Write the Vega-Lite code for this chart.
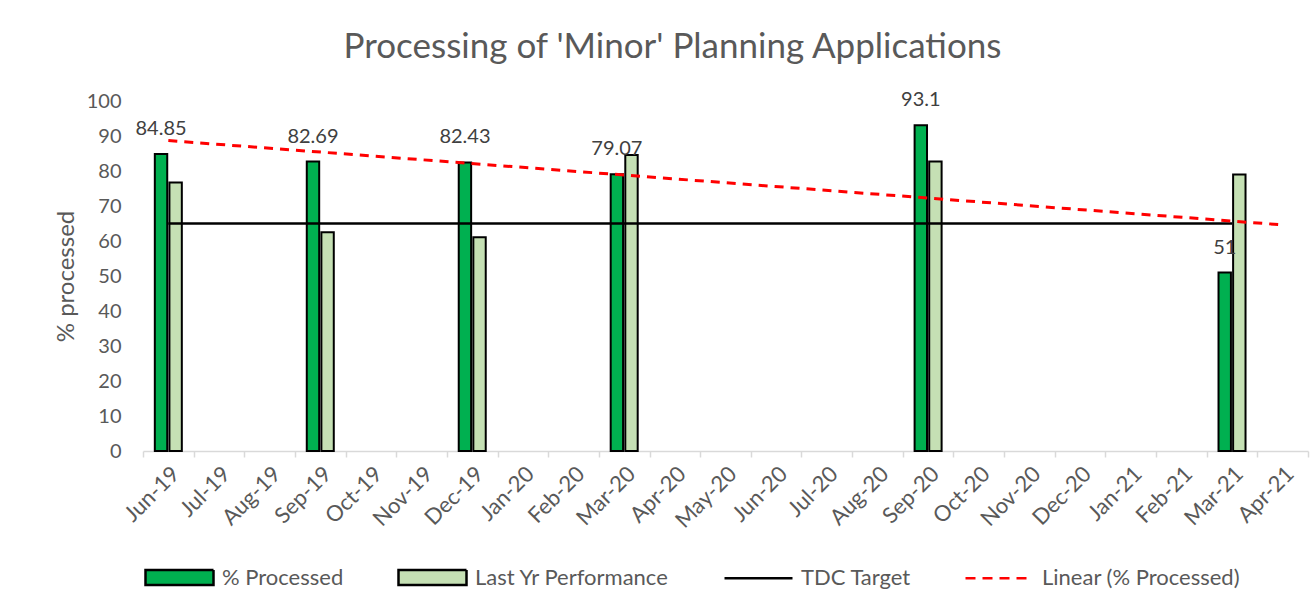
{
  "$schema": "https://vega.github.io/schema/vega-lite/v6.json",
  "width": 1165,
  "height": 350,
  "autosize": {"type": "none"},
  "padding": {"left": 143, "top": 101, "right": 8, "bottom": 162},
  "background": "white",
  "title": {
    "text": "Processing of 'Minor' Planning Applications",
    "font": "Lato",
    "fontSize": 35,
    "fontWeight": "normal",
    "color": "#595959",
    "anchor": "middle",
    "baseline": "alphabetic",
    "offset": 42,
    "dy": 45,
    "dx": -53
  },
  "config": {
    "view": {"stroke": null},
    "font": "Lato"
  },
  "datasets": {
    "bars": [
      {"month": "Jun-19", "series": "% Processed", "value": 84.85},
      {"month": "Jun-19", "series": "Last Yr Performance", "value": 76.7},
      {"month": "Sep-19", "series": "% Processed", "value": 82.69},
      {"month": "Sep-19", "series": "Last Yr Performance", "value": 62.5},
      {"month": "Dec-19", "series": "% Processed", "value": 82.43},
      {"month": "Dec-19", "series": "Last Yr Performance", "value": 61.1},
      {"month": "Mar-20", "series": "% Processed", "value": 79.07},
      {"month": "Mar-20", "series": "Last Yr Performance", "value": 84.6},
      {"month": "Sep-20", "series": "% Processed", "value": 93.1},
      {"month": "Sep-20", "series": "Last Yr Performance", "value": 82.7},
      {"month": "Mar-21", "series": "% Processed", "value": 51},
      {"month": "Mar-21", "series": "Last Yr Performance", "value": 79.0}
    ],
    "target": [
      {"month": "Jun-19", "series": "TDC Target", "value": 65},
      {"month": "Sep-19", "series": "TDC Target", "value": 65},
      {"month": "Dec-19", "series": "TDC Target", "value": 65},
      {"month": "Mar-20", "series": "TDC Target", "value": 65},
      {"month": "Sep-20", "series": "TDC Target", "value": 65},
      {"month": "Mar-21", "series": "TDC Target", "value": 65}
    ],
    "trend": [
      {"month": "Jun-19", "series": "Linear (% Processed)", "value": 88.7},
      {"month": "Apr-21", "series": "Linear (% Processed)", "value": 64.6}
    ]
  },
  "encoding": {
    "x": {
      "field": "month",
      "type": "ordinal",
      "scale": {
        "domain": ["Jun-19","Jul-19","Aug-19","Sep-19","Oct-19","Nov-19","Dec-19","Jan-20","Feb-20","Mar-20","Apr-20","May-20","Jun-20","Jul-20","Aug-20","Sep-20","Oct-20","Nov-20","Dec-20","Jan-21","Feb-21","Mar-21","Apr-21"],
        "paddingInner": 0,
        "paddingOuter": 0
      },
      "axis": {
        "title": null,
        "labelAngle": -45,
        "labelFont": "Lato",
        "labelFontSize": 22,
        "labelColor": "#595959",
        "labelPadding": 6,
        "tickBand": "extent",
        "tickSize": 6,
        "tickColor": "#D9D9D9",
        "tickWidth": 1.5,
        "domainColor": "#D9D9D9",
        "domainWidth": 1.5,
        "grid": false
      }
    },
    "y": {
      "field": "value",
      "type": "quantitative",
      "scale": {"domain": [0, 100], "nice": false},
      "axis": {
        "title": "% processed",
        "titleFont": "Lato",
        "titleFontSize": 24,
        "titleFontWeight": "normal",
        "titleColor": "#595959",
        "titlePadding": 8,
        "values": [0,10,20,30,40,50,60,70,80,90,100],
        "labelFont": "Lato",
        "labelFontSize": 20,
        "labelColor": "#595959",
        "labelPadding": 22,
        "domain": false,
        "ticks": false,
        "grid": false
      }
    },
    "color": {
      "field": "series",
      "type": "nominal",
      "scale": {
        "domain": ["% Processed", "Last Yr Performance", "TDC Target", "Linear (% Processed)"],
        "range": ["#00B050", "#C5E0B4", "#000000", "#FF0000"]
      },
      "legend": {
        "title": null,
        "orient": "none",
        "legendX": 1,
        "legendY": 441,
        "direction": "horizontal",
        "columns": 4,
        "columnPadding": 49,
        "labelOffset": 7,
        "symbolSize": 4624,
        "symbolStrokeWidth": 2.5,
        "symbolOpacity": 1,
        "labelFont": "Lato",
        "labelFontSize": 22,
        "labelColor": "#595959",
        "labelLimit": 400,
        "encode": {
          "symbols": {
            "update": {
              "shape": {"signal": "(datum.value === 'TDC Target' || datum.value === 'Linear (% Processed)') ? 'M-1,0H1' : 'M-1,-0.22H1V0.22H-1Z'"},
              "stroke": {"signal": "datum.value === 'Linear (% Processed)' ? '#FF0000' : '#000000'"},
              "strokeWidth": {"value": 2.5},
              "strokeDash": {"signal": "datum.value === 'Linear (% Processed)' ? [10, 7] : [1, 0]"},
              "opacity": {"value": 1}
            }
          }
        }
      }
    }
  },
  "layer": [
    {
      "data": {"name": "bars"},
      "mark": {"type": "bar", "stroke": "#000000", "strokeWidth": 2},
      "encoding": {
        "xOffset": {
          "field": "series",
          "type": "nominal",
          "scale": {"domain": ["% Processed", "Last Yr Performance"], "paddingInner": 0.15, "paddingOuter": 0.81}
        }
      }
    },
    {
      "data": {"name": "trend"},
      "mark": {"type": "point", "filled": true, "size": 1, "opacity": 0},
      "encoding": {}
    },
    {
      "data": {"name": "bars"},
      "transform": [{"filter": "datum.series === '% Processed'"}],
      "mark": {"type": "text", "dy": -25, "font": "Lato", "fontSize": 20},
      "encoding": {
        "xOffset": {"field": "series", "type": "nominal"},
        "text": {"field": "value", "type": "quantitative"},
        "color": {"value": "#404040"}
      }
    },
    {
      "data": {"name": "target"},
      "mark": {"type": "line", "strokeWidth": 2.5},
      "encoding": {"color": {"value": "#000000"}}
    },
    {
      "data": {"name": "trend"},
      "mark": {"type": "line", "strokeWidth": 3, "strokeDash": [9, 7]},
      "encoding": {"color": {"value": "#FF0000"}}
    }
  ]
}
